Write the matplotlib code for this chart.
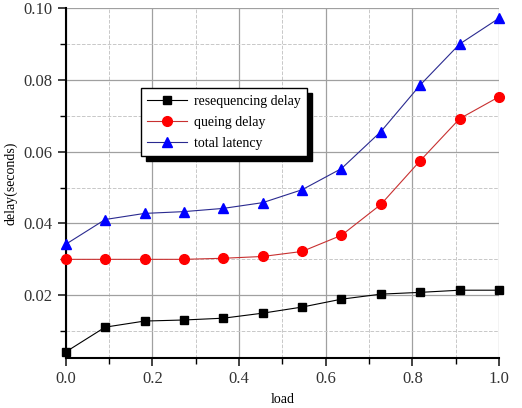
import matplotlib
matplotlib.use('Agg')
import matplotlib.pyplot as plt
from matplotlib.ticker import MultipleLocator, FormatStrFormatter

load = [i / 11 for i in range(12)]
reseq = [0.0042, 0.0111, 0.0128, 0.0131, 0.0136, 0.0150, 0.0167, 0.0189, 0.0203, 0.0208, 0.0214, 0.0214]
queue = [0.0300, 0.0300, 0.0300, 0.0300, 0.0303, 0.0308, 0.0322, 0.0367, 0.0453, 0.0575, 0.0692, 0.0753]
total = [0.0342, 0.0411, 0.0428, 0.0433, 0.0442, 0.0458, 0.0494, 0.0553, 0.0656, 0.0786, 0.0900, 0.0972]

plt.rcParams['font.family'] = ['Liberation Serif', 'DejaVu Serif']

fig = plt.figure(figsize=(5.22, 4.08), dpi=100)
ax = fig.add_axes([0.126, 0.1225, 0.830, 0.8575])

ax.plot(load, reseq, color='black', lw=0.8, marker='s', ms=6, mfc='black', mec='black',
        label='resequencing delay', clip_on=False, zorder=3)
ax.plot(load, queue, color='#c83030', lw=0.8, marker='o', ms=7, mfc='red', mec='red',
        label='queing delay', clip_on=False, zorder=3)
ax.plot(load, total, color='#2a2a90', lw=0.8, marker='^', ms=7, mfc='blue', mec='blue',
        label='total latency', clip_on=False, zorder=3)

ax.set_xlim(0, 1.0)
ax.set_ylim(0.0025, 0.10)
ax.xaxis.set_major_locator(MultipleLocator(0.2))
ax.xaxis.set_minor_locator(MultipleLocator(0.1))
ax.yaxis.set_major_locator(MultipleLocator(0.02))
ax.yaxis.set_minor_locator(MultipleLocator(0.01))
ax.xaxis.set_major_formatter(FormatStrFormatter('%.1f'))
ax.yaxis.set_major_formatter(FormatStrFormatter('%.2f'))

ax.grid(which='major', color='#a0a0a0', lw=0.9, ls='-')
ax.grid(which='minor', color='#c8c8c8', lw=0.7, ls='--')
ax.set_axisbelow(True)

for s in ['top', 'right']:
    ax.spines[s].set_visible(False)
for s in ['left', 'bottom']:
    ax.spines[s].set_linewidth(1.5)
ax.tick_params(which='major', direction='out', length=6, width=1.3, labelsize=12, colors='#333333')
ax.tick_params(which='minor', direction='out', length=4, width=1.0)

ax.set_xlabel('load', fontsize=10, labelpad=4)
ax.set_ylabel('delay(seconds)', fontsize=10, labelpad=4)

leg = ax.legend(loc='upper left', bbox_to_anchor=(0.173, 0.771), borderaxespad=0,
                fontsize=10, fancybox=False, framealpha=1, edgecolor='black',
                shadow={'color': 'black', 'alpha': 1, 'ox': 3.6, 'oy': -3.6},
                handlelength=2.9, handletextpad=0.5, borderpad=0.45, labelspacing=0.6)
leg.get_frame().set_linewidth(1.0)

fig.savefig('out.png', dpi=100)
